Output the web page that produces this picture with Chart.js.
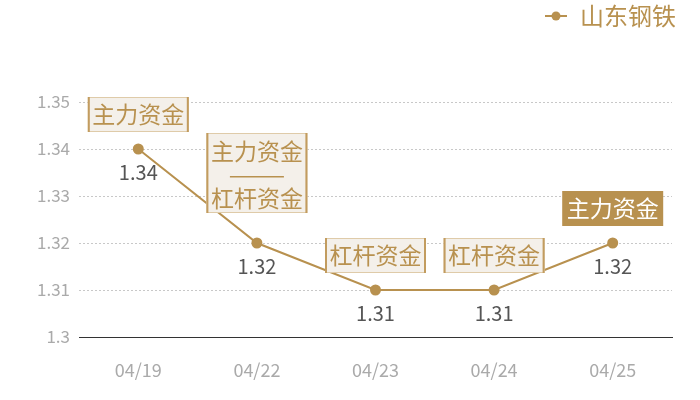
<!DOCTYPE html>
<html>
<head>
<meta charset="utf-8">
<script src="https://cdn.jsdelivr.net/npm/chart.js@4"></script>
<style>
  html, body { margin: 0; padding: 0; background: #fff; }
  #wrap { width: 700px; height: 400px; }
</style>
</head>
<body>
<div id="wrap"><canvas id="myChart" width="700" height="400"></canvas></div>
<script>
const labels = ["04/19", "04/22", "04/23", "04/24", "04/25"];
const values = [1.34, 1.32, 1.31, 1.31, 1.32];
const tags = [["主力资金"], ["主力资金", "杠杆资金"], ["杠杆资金"], ["杠杆资金"], ["主力资金"]];
const filledTag = [false, false, false, false, true];
const seriesName = "山东钢铁";

const GOLD = "#b8914f";
const FONT = "'Noto Sans CJK SC', 'Noto Sans', sans-serif";

// legend marker: short line with a dot
const marker = document.createElement("canvas");
marker.width = 22;
marker.height = 12;
{
  const c = marker.getContext("2d");
  c.strokeStyle = GOLD;
  c.lineWidth = 2;
  c.beginPath();
  c.moveTo(0, 6);
  c.lineTo(22, 6);
  c.stroke();
  c.fillStyle = GOLD;
  c.beginPath();
  c.arc(11, 6, 4.5, 0, Math.PI * 2);
  c.fill();
}

// push the plot area down below the legend, nudge legend to the right
const legendGap = {
  id: "legendGap",
  beforeInit(chart) {
    const lg = chart.legend;
    const fit = lg.fit;
    lg.fit = function () {
      fit.call(lg);
      lg.height += 62;
    };
    const draw = lg.draw;
    lg.draw = function (area) {
      const c = chart.ctx;
      c.save();
      c.translate(10, -2);
      draw.call(lg, area);
      c.restore();
    };
  }
};

const tagPlugin = {
  id: "tags",
  afterDatasetsDraw(chart) {
    const ctx = chart.ctx;
    const pts = chart.getDatasetMeta(0).data;
    ctx.save();
    pts.forEach((p, i) => {
      // value label under the point
      ctx.font = "20px " + FONT;
      ctx.fillStyle = "#555";
      ctx.textAlign = "center";
      ctx.textBaseline = "middle";
      ctx.fillText(values[i], p.x, p.y + 23);

      const lines = tags[i];
      const w = 101;
      const h = lines.length === 1 ? 35 : 80;
      const bottom = p.y - (lines.length === 1 ? 17 : 30);
      const x0 = p.x - w / 2;
      const y0 = bottom - h;
      if (filledTag[i]) {
        ctx.fillStyle = GOLD;
        ctx.fillRect(x0, y0, w, h);
      } else {
        ctx.fillStyle = "#f4f0ea";
        ctx.fillRect(x0, y0, w, h);
        ctx.strokeStyle = "#dfcba9";
        ctx.lineWidth = 1;
        ctx.strokeRect(x0 + 0.5, y0 + 0.5, w - 1, h - 1);
        ctx.fillStyle = "#c29c5f";
        ctx.fillRect(x0, y0, 2, h);
        ctx.fillRect(x0 + w - 2, y0, 2, h);
      }
      ctx.font = "23px " + FONT;
      ctx.fillStyle = filledTag[i] ? "#fff" : GOLD;
      if (lines.length === 1) {
        ctx.fillText(lines[0], p.x, y0 + h / 2);
      } else {
        ctx.fillText(lines[0], p.x, y0 + 18);
        ctx.fillRect(p.x - 27, y0 + 43, 54, 1.5);
        ctx.fillText(lines[1], p.x, y0 + 65);
      }
    });
    ctx.restore();
  }
};

const config = {
  type: "line",
  data: {
    labels: labels,
    datasets: [
      {
        label: seriesName,
        data: values,
        borderColor: GOLD,
        backgroundColor: GOLD,
        borderWidth: 2,
        pointRadius: 4.5,
        pointHoverRadius: 4.5,
        pointStyle: "circle",
        tension: 0,
      },
    ],
  },
  options: {
    responsive: false,
    animation: false,
    layout: { padding: { top: 0, right: 28, bottom: 20, left: 0 } },
    plugins: {
      tooltip: { enabled: false },
      legend: {
        position: "top",
        align: "end",
        labels: {
          color: GOLD,
          font: { family: FONT, size: 24 },
          usePointStyle: true,
          padding: 6,
          generateLabels() {
            return [{ text: seriesName, pointStyle: marker, fontColor: GOLD, lineWidth: 0 }];
          },
        },
      },
    },
    scales: {
      x: {
        offset: true,
        afterFit(s) { s.height = 43; },
        grid: { display: false, drawTicks: false },
        border: { display: true, color: "#333", width: 1 },
        ticks: { color: "#aaa", font: { family: FONT, size: 18 }, padding: 22 },
      },
      y: {
        min: 1.3,
        max: 1.35,
        afterFit(s) { s.width = 79; },
        border: { display: false, dash: [2, 2] },
        grid: { color: "#c8c8c8", drawTicks: false },
        ticks: {
          stepSize: 0.01,
          color: "#aaa",
          font: { family: FONT, size: 17 },
          padding: 9,
          callback: (v) => String(parseFloat(v.toFixed(2))),
        },
      },
    },
  },
  plugins: [legendGap, tagPlugin],
};

const ctx = document.getElementById("myChart");
const myChart = new Chart(ctx, config);
</script>
</body>
</html>
